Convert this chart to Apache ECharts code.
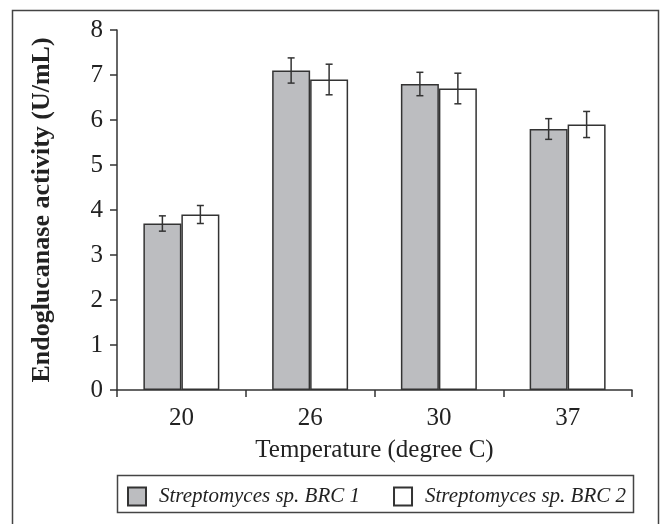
<!DOCTYPE html>
<html>
<head>
<meta charset="utf-8">
<script src="https://cdn.jsdelivr.net/npm/echarts@6/dist/echarts.min.js"></script>
<style>
html,body{margin:0;padding:0;background:#fff;}
#chart{width:661px;height:524px;}
</style>
</head>
<body>
<div id="chart"></div>
<script>
// ---- data ----
const categories = ['20', '26', '30', '37'];
const seriesNames = ['Streptomyces sp. BRC 1', 'Streptomyces sp. BRC 2'];
const brc1 = [3.7, 7.1, 6.8, 5.8];
const brc2 = [3.9, 6.9, 6.7, 5.9];
const brc1Err = [0.17, 0.28, 0.26, 0.23];
const brc2Err = [0.20, 0.34, 0.34, 0.29];
const yTicks = { min: 0, max: 8, interval: 1 };

// ---- styles ----
const FONT = 'Liberation Serif';
const INK = '#222';
const EDGE = '#333';
const GRAY = '#bcbdc0';
const CAT_GAP = 0.41;            // barCategoryGap fraction
const BAR_FRAC = (1 - CAT_GAP) / 2;

function errSeries(values, errs, sign) {
  return {
    type: 'custom',
    silent: true,
    z: 5,
    data: categories.map((c, i) => [i, values[i], errs[i]]),
    renderItem: function (params, api) {
      const i = api.value(0);
      const band = api.size([1, 0])[0];
      const off = sign * band * BAR_FRAC / 2;
      const hi = api.coord([i, api.value(1) + api.value(2)]);
      const lo = api.coord([i, api.value(1) - api.value(2)]);
      const x = hi[0] + off;
      const cap = 3.5;
      const st = { stroke: EDGE, lineWidth: 1.5 };
      return {
        type: 'group',
        children: [
          { type: 'line', shape: { x1: x, y1: hi[1], x2: x, y2: lo[1] }, style: st },
          { type: 'line', shape: { x1: x - cap, y1: hi[1], x2: x + cap, y2: hi[1] }, style: st },
          { type: 'line', shape: { x1: x - cap, y1: lo[1], x2: x + cap, y2: lo[1] }, style: st }
        ]
      };
    }
  };
}

const chart = echarts.init(document.getElementById('chart'), null, { renderer: 'canvas' });
chart.setOption({
  backgroundColor: '#fff',
  animation: false,
  textStyle: { fontFamily: FONT, color: INK },
  grid: { left: 117, right: 29, top: 30, bottom: 134 },
  graphic: [
    { type: 'rect', silent: true, shape: { x: 12.5, y: 10.5, width: 646, height: 540 },
      style: { fill: 'none', stroke: '#444', lineWidth: 1.5 } },
    { type: 'rect', silent: true, shape: { x: 117.5, y: 475.5, width: 516, height: 37 },
      style: { fill: 'none', stroke: '#444', lineWidth: 1.5 } }
  ],
  legend: {
    data: seriesNames,
    left: 127,
    top: 486,
    padding: 0,
    itemWidth: 18,
    itemHeight: 18,
    itemGap: 33,
    icon: 'rect',
    textStyle: { fontFamily: FONT, fontStyle: 'italic', fontSize: 21, color: INK, padding: [0, 0, 0, 8] }
  },
  xAxis: {
    type: 'category',
    data: categories,
    boundaryGap: true,
    name: 'Temperature (degree C)',
    nameLocation: 'middle',
    nameGap: 48,
    nameTextStyle: { fontFamily: FONT, fontSize: 25, color: INK },
    axisLine: { lineStyle: { color: EDGE, width: 1.5 } },
    axisTick: { show: true, length: 7, alignWithLabel: false, lineStyle: { color: EDGE, width: 1.5 } },
    axisLabel: { fontFamily: FONT, fontSize: 25, color: INK, margin: 16 },
    splitLine: { show: false }
  },
  yAxis: {
    type: 'value',
    min: yTicks.min,
    max: yTicks.max,
    interval: yTicks.interval,
    name: 'Endoglucanase activity (U/mL)',
    nameLocation: 'middle',
    nameGap: 62,
    nameTextStyle: { fontFamily: FONT, fontSize: 26, fontWeight: 'bold', color: INK },
    axisLine: { show: true, lineStyle: { color: EDGE, width: 1.5 } },
    axisTick: { show: true, length: 7, lineStyle: { color: EDGE, width: 1.5 } },
    axisLabel: { fontFamily: FONT, fontSize: 25, color: INK, margin: 14 },
    splitLine: { show: false }
  },
  series: [
    {
      name: seriesNames[0], type: 'bar', data: brc1,
      barGap: '0%', barCategoryGap: (CAT_GAP * 100) + '%',
      itemStyle: { color: GRAY, borderColor: EDGE, borderWidth: 1.5 }
    },
    {
      name: seriesNames[1], type: 'bar', data: brc2,
      barGap: '0%', barCategoryGap: (CAT_GAP * 100) + '%',
      itemStyle: { color: '#fff', borderColor: EDGE, borderWidth: 1.5 }
    },
    errSeries(brc1, brc1Err, -1),
    errSeries(brc2, brc2Err, 1)
  ]
});
</script>
</body>
</html>
